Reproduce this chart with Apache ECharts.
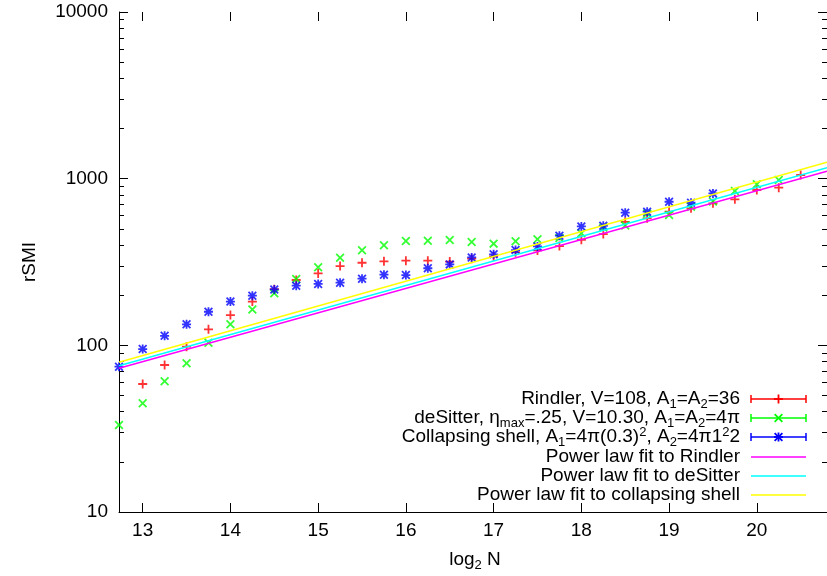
<!DOCTYPE html>
<html><head><meta charset="utf-8">
<script src="https://cdn.jsdelivr.net/npm/echarts@6/dist/echarts.min.js"></script>
<style>html,body{margin:0;padding:0;background:#fff}#c{width:827px;height:576px}</style>
</head><body><div id="c"></div>
<script>
// ---- data ----
const xTicks = [13, 14, 15, 16, 17, 18, 19, 20];
const yMajorTicks = [10, 100, 1000, 10000];
const yMinorTicks = [20, 30, 40, 50, 60, 70, 80, 90, 200, 300, 400, 500, 600, 700, 800, 900, 2000, 3000, 4000, 5000, 6000, 7000, 8000, 9000];
const logN = [12.73, 13, 13.25, 13.5, 13.75, 14, 14.25, 14.5, 14.75, 15, 15.25, 15.5, 15.75, 16, 16.25, 16.5, 16.75, 17, 17.25, 17.5, 17.75, 18, 18.25, 18.5, 18.75, 19, 19.25, 19.5, 19.75, 20, 20.25, 20.5];
const rindler = [null, 58.6, 76.2, 98.2, 124.7, 152, 183, 217, 246.6, 270, 299, 313, 319, 322, 322, 318, 331, 342, 362, 371, 394, 430, 465, 551, 578, 634, 664, 711, 752, 855, 883, 1052];
const desitter = [33.3, 44.9, 60.8, 78, 103.7, 133.7, 164, 205, 250, 293.8, 335.7, 371.5, 398, 422.6, 424.6, 428.5, 417, 407.6, 421, 432.7, 440, 470, 510, 524, 617, 605, 679, 730, 843, 925, 981, null];
const shell = [74.5, 95, 114, 133.7, 159, 183, 198.6, 216.6, 228, 233.5, 237.6, 251, 265.5, 264, 290, 306, 337, 351.6, 373, 392, 455, 517, 521, 625, 634, 727, 717, 816, null, null, null, null];
const fitRindler = [[12.73, 72.8], [20.8, 1108]];
const fitDesitter = [[12.73, 75.5], [20.8, 1162]];
const fitShell = [[12.73, 79.1], [20.8, 1254]];
const legendLabels = [
  'Rindler, V=108, A{s|1}=A{s|2}=36',
  'deSitter, η{s|max}=.25, V=10.30, A{s|1}=A{s|2}=4π',
  'Collapsing shell, A{s|1}=4π(0.3){p|2}, A{s|2}=4π1{p|2}2',
  'Power law fit to Rindler',
  'Power law fit to deSitter',
  'Power law fit to collapsing shell'
];

// ---- styling ----
const FONT = '"Liberation Sans", Arial, Helvetica, sans-serif';
const FS = 19;
const RED = '#ff0000', GREEN = '#00ff00', BLUE = '#0000ff';
const MAG = '#ff00ff', CYAN = '#00ffff', YEL = '#ffff00';
const PLUS_P = [[[-1,-5],[1,-5],[1,-1],[5,-1],[5,1],[1,1],[1,5],[-1,5],[-1,1],[-5,1],[-5,-1],[-1,-1]]];
const CROSS_P = [[[-5,-3.6],[-3.6,-5],[5,3.6],[3.6,5]], [[-5,3.6],[3.6,-5],[5,-3.6],[-3.6,5]]];
const STAR_P = PLUS_P.concat(CROSS_P);
function toPath(polys) {
  return 'path://' + polys.map(p => 'M' + p.map(q => q[0] + ',' + q[1]).join('L') + 'Z').join('');
}

function pts(vals) {
  const out = [];
  logN.forEach((x, i) => { if (vals[i] != null) out.push([x, vals[i]]); });
  return out;
}

const rich = {
  s: {fontSize: 13, fontFamily: FONT, fill: '#000', lineHeight: 13, padding: [10, 0, 0, 0], verticalAlign: 'top'},
  p: {fontSize: 13, fontFamily: FONT, fill: '#000', lineHeight: 13, padding: [0, 0, 10, 0], verticalAlign: 'bottom'}
};

const legendColors = [RED, GREEN, BLUE, MAG, CYAN, YEL];
const legendMarks = [PLUS_P, CROSS_P, STAR_P, null, null, null];
const rowY = [399, 418, 437, 457, 476, 495];
const textRight = 740, sx0 = 751, sx1 = 806;
const graphics = [];
legendLabels.forEach((t, i) => {
  const y = rowY[i];
  graphics.push({type: 'text', x: textRight, y: y, style: {text: t, align: 'right', verticalAlign: 'middle', font: FS + 'px ' + FONT, fontSize: FS, fontFamily: FONT, fill: '#000', lineHeight: 23, rich: rich}});
  graphics.push({type: 'line', shape: {x1: sx0, y1: y, x2: sx1, y2: y}, style: {stroke: legendColors[i], lineWidth: 1.5}});
  if (legendMarks[i]) {
    graphics.push({type: 'line', shape: {x1: sx0, y1: y - 4, x2: sx0, y2: y + 4}, style: {stroke: legendColors[i], lineWidth: 1.5}});
    graphics.push({type: 'line', shape: {x1: sx1, y1: y - 4, x2: sx1, y2: y + 4}, style: {stroke: legendColors[i], lineWidth: 1.5}});
    const cx = (sx0 + sx1) / 2;
    legendMarks[i].forEach(poly => {
      graphics.push({type: 'polygon', shape: {points: poly.map(q => [cx + q[0] * 0.9, y + q[1] * 0.9])}, style: {fill: legendColors[i]}});
    });
  }
});
graphics.push({type: 'text', x: 30, y: 262, rotation: Math.PI / 2, style: {text: 'rSMI', align: 'center', verticalAlign: 'middle', font: FS + 'px ' + FONT, fill: '#000'}});
graphics.push({type: 'text', x: 475, y: 560, style: {text: 'log{s|2} N', align: 'center', verticalAlign: 'middle', font: FS + 'px ' + FONT, fontSize: FS, fontFamily: FONT, fill: '#000', lineHeight: 23, rich: rich}});

const XMIN = 12.73, XMAX = 20.8;
function xAx(pos, labels) {
  return {
    type: 'value', min: XMIN, max: XMAX, position: pos,
    axisLine: {show: labels, onZero: false, lineStyle: {color: '#000', width: 1}},
    axisTick: {show: true, inside: true, length: 9, customValues: xTicks, lineStyle: {color: '#000', width: 1}},
    axisLabel: {show: labels, customValues: xTicks, color: '#000', fontSize: FS, fontFamily: FONT, margin: 9, formatter: v => String(Math.round(v))},
    splitLine: {show: false}
  };
}
function yAx(pos, ticks, len, line, labels) {
  return {
    type: 'log', logBase: 10, min: 10, max: 10000, position: pos,
    axisLine: {show: line, onZero: false, lineStyle: {color: '#000', width: 1}},
    axisTick: {show: true, inside: true, length: len, customValues: ticks, lineStyle: {color: '#000', width: 1}},
    axisLabel: {show: labels, customValues: ticks, color: '#000', fontSize: FS, fontFamily: FONT, margin: 11, formatter: v => String(Math.round(v))},
    splitLine: {show: false}, minorTick: {show: false}
  };
}

const option = {
  animation: false,
  backgroundColor: '#fff',
  grid: {left: 119, top: 12, right: -6, bottom: 64, containLabel: false},
  xAxis: [xAx('bottom', true), xAx('top', false)],
  yAxis: [
    yAx('left', yMajorTicks, 9, true, true),
    yAx('left', yMinorTicks, 5, false, false),
    yAx('right', yMajorTicks, 9, false, false),
    yAx('right', yMinorTicks, 5, false, false)
  ],
  series: [
    {type: 'scatter', name: 'Rindler', data: pts(rindler), symbol: toPath(PLUS_P), symbolSize: 9, itemStyle: {color: RED}},
    {type: 'scatter', name: 'deSitter', data: pts(desitter), symbol: toPath(CROSS_P), symbolSize: 9, itemStyle: {color: GREEN}},
    {type: 'scatter', name: 'Collapsing shell', data: pts(shell), symbol: toPath(STAR_P), symbolSize: 9, itemStyle: {color: BLUE}},
    {type: 'line', name: 'fit Rindler', data: fitRindler, showSymbol: false, symbol: 'none', lineStyle: {color: MAG, width: 1.5}},
    {type: 'line', name: 'fit deSitter', data: fitDesitter, showSymbol: false, symbol: 'none', lineStyle: {color: CYAN, width: 1.5}},
    {type: 'line', name: 'fit shell', data: fitShell, showSymbol: false, symbol: 'none', lineStyle: {color: YEL, width: 1.5}}
  ],
  graphic: graphics
};
const chart = echarts.init(document.getElementById('c'));
chart.setOption(option);
</script>
</body></html>
